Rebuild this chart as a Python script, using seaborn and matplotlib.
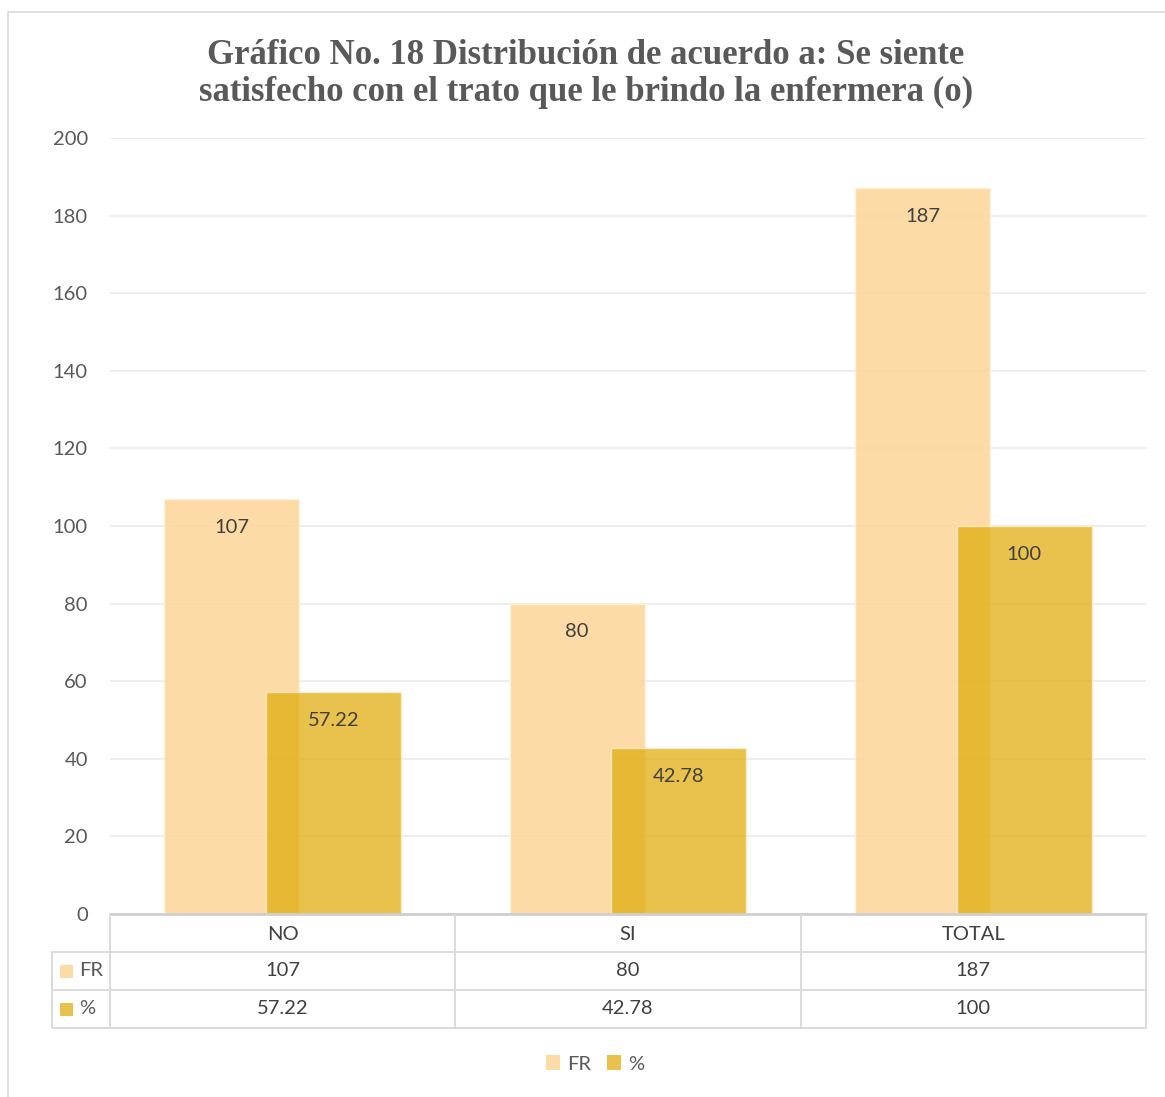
import matplotlib
matplotlib.use("Agg")
import matplotlib.pyplot as plt
from matplotlib.lines import Line2D
from matplotlib.patches import Rectangle
import seaborn as sns
import pandas as pd

categories = ["NO", "SI", "TOTAL"]
fr_values = [107, 80, 187]
pct_values = [57.22, 42.78, 100]
fr_labels = ["107", "80", "187"]
pct_labels = ["57.22", "42.78", "100"]
series_names = ["FR", "%"]
y_ticks = [0, 20, 40, 60, 80, 100, 120, 140, 160, 180, 200]

FR_COLOR = (252 / 255, 215 / 255, 156 / 255)
PCT_COLOR = (224 / 255, 171 / 255, 8 / 255)
FR_ALPHA = 0.9
PCT_ALPHA = 0.72
TEXT = "#404040"
AXIS_TEXT = "#595959"
LINE = "#D9D9D9"
FS = 14.5

sns.set_theme(style="white")
plt.rcParams["font.family"] = ["Lato", "DejaVu Sans"]

W, H = 1165, 1097
fig = plt.figure(figsize=(W / 100, H / 100), dpi=100)
fig.patch.set_facecolor("white")


def fx(px):
    return px / W


def fy(py):
    return 1 - py / H


# plot area
left, right, top, bottom = 110, 1146, 138, 914
ax = fig.add_axes([fx(left), fy(bottom), fx(right - left), (bottom - top) / H])

offset = 0.147
bar_w = 0.391
idx = list(range(len(categories)))
df_fr = pd.DataFrame({"x": [i - offset for i in idx], "y": fr_values})
df_pct = pd.DataFrame({"x": [i + offset for i in idx], "y": pct_values})

sns.barplot(data=df_fr, x="x", y="y", native_scale=True, width=bar_w,
            color=FR_COLOR, alpha=FR_ALPHA, saturation=1, errorbar=None,
            edgecolor=(1, 0.95, 0.88, 0.6), linewidth=1, ax=ax, zorder=2)
sns.barplot(data=df_pct, x="x", y="y", native_scale=True, width=bar_w,
            color=PCT_COLOR, alpha=PCT_ALPHA, saturation=1, errorbar=None,
            edgecolor=(1, 0.95, 0.85, 0.5), linewidth=1, ax=ax, zorder=3)

# value labels just below the bar tops
for i in idx:
    ax.text(i - offset, fr_values[i] - 7.3, fr_labels[i], ha="center", va="center",
            fontsize=FS, color=TEXT, zorder=5)
    ax.text(i + offset, pct_values[i] - 7.3, pct_labels[i], ha="center", va="center",
            fontsize=FS, color=TEXT, zorder=5)

ax.set_xlim(-0.5, len(categories) - 0.5)
ax.set_ylim(0, 200)
ax.set_yticks(y_ticks)
ax.set_yticklabels([str(t) for t in y_ticks], fontsize=FS, color=AXIS_TEXT)
ax.set_xticks([])
ax.set_xlabel("")
ax.set_ylabel("")
ax.tick_params(axis="y", length=0, pad=16)
ax.yaxis.grid(True, color="#EDEDED", linewidth=1.3, zorder=0)
ax.set_axisbelow(True)
for s in ax.spines.values():
    s.set_visible(False)
ax.set_facecolor("none")

# outer chart border
fig.add_artist(Rectangle((fx(8), fy(H + 20)), fx(W + 20), (H + 20 - 12) / H,
                         transform=fig.transFigure, fill=False,
                         edgecolor=LINE, linewidth=1.2))

# title
fig.text(fx(586), fy(74),
         "Gráfico No. 18 Distribución de acuerdo a: Se siente\n"
         "satisfecho con el trato que le brindo la enfermera (o)",
         ha="center", va="center", fontsize=25, fontweight="bold",
         family=["Liberation Serif", "DejaVu Serif"], color=AXIS_TEXT,
         linespacing=1.12)


# data table under the plot
def hline(y, x0, x1, color=LINE, lw=1.3):
    fig.add_artist(Line2D([fx(x0), fx(x1)], [fy(y), fy(y)], color=color,
                          linewidth=lw, transform=fig.transFigure))


def vline(x, y0, y1, color=LINE, lw=1.3):
    fig.add_artist(Line2D([fx(x), fx(x)], [fy(y0), fy(y1)], color=color,
                          linewidth=lw, transform=fig.transFigure))


row_y = [914, 952, 990, 1028]
tab_left = 52
col_x = [left + (right - left) * k / len(categories) for k in range(len(categories) + 1)]

hline(row_y[0], left, right, color="#CFCFCF", lw=2)
for y in row_y[1:]:
    hline(y, tab_left, right)
vline(tab_left, row_y[1], row_y[3])
for x in col_x:
    vline(x, row_y[0], row_y[3])

for k, cat in enumerate(categories):
    cx = (col_x[k] + col_x[k + 1]) / 2
    fig.text(fx(cx), fy(934), cat, ha="center", va="center", fontsize=FS, color=TEXT)
    fig.text(fx(cx), fy(971), fr_labels[k], ha="center", va="center", fontsize=FS, color=TEXT)
    fig.text(fx(cx), fy(1009), pct_labels[k], ha="center", va="center", fontsize=FS, color=TEXT)

for (name, col, a, yc) in [(series_names[0], FR_COLOR, FR_ALPHA, 971),
                           (series_names[1], PCT_COLOR, PCT_ALPHA, 1009)]:
    fig.add_artist(Rectangle((fx(60), fy(yc + 6.5)), fx(13), 13 / H,
                             transform=fig.transFigure, facecolor=col, alpha=a,
                             edgecolor="none"))
    fig.text(fx(79), fy(yc), name, ha="left", va="center", fontsize=FS, color=AXIS_TEXT)

# legend
handles = [Rectangle((0, 0), 1, 1, facecolor=FR_COLOR, alpha=FR_ALPHA, edgecolor="none"),
           Rectangle((0, 0), 1, 1, facecolor=PCT_COLOR, alpha=PCT_ALPHA, edgecolor="none")]
fig.legend(handles, series_names, loc="center", bbox_to_anchor=(fx(595), fy(1064)),
           ncol=2, frameon=False, fontsize=FS, handlelength=0.7, handleheight=0.7,
           handletextpad=0.35, columnspacing=0.8, labelcolor=AXIS_TEXT)

fig.savefig("out.png", dpi=100, facecolor="white")
